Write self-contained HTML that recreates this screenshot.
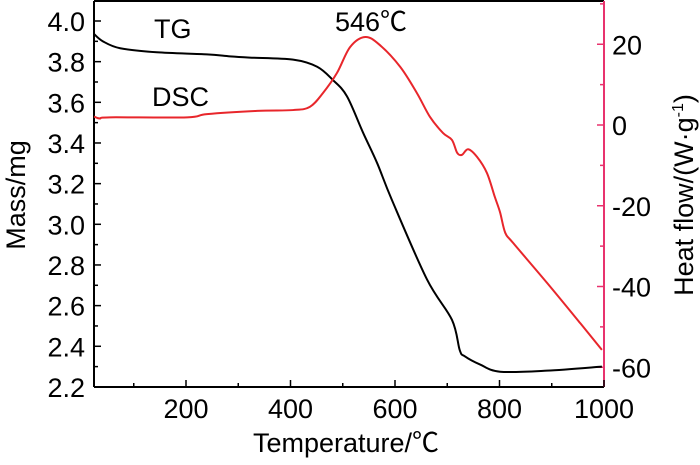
<!DOCTYPE html>
<html><head><meta charset="utf-8"><style>
body{margin:0;background:#fff}
svg text{font-family:"Liberation Sans","Noto Sans CJK SC",sans-serif;}
</style></head><body>
<svg id="c" width="700" height="460" xmlns="http://www.w3.org/2000/svg"></svg>
<script>
const xTicks=[200,400,600,800,1000];
const massTicks=[2.2,2.4,2.6,2.8,3.0,3.2,3.4,3.6,3.8,4.0];
const heatTicks=[-60,-40,-20,0,20];
const tgT=[24,41,74,144,240,284,322,405,451,481,508,539,566,594,661,709,724,734,763,801,891,996];
const tgM=[3.936,3.90,3.866,3.846,3.836,3.826,3.82,3.81,3.775,3.71,3.63,3.45,3.30,3.12,2.73,2.53,2.38,2.35,2.31,2.275,2.28,2.30];
const dscT=[24,35,54,202,240,336,405,437,462,489,514,543,571,610,642,667,692,709,719,728,740,757,776,791,801,811,826,891,954,996];
const dscH=[2.1,1.6,1.9,1.9,2.7,3.5,3.7,4.5,7.9,12.9,19.3,21.8,19.8,14.4,7.9,2,-2,-3.7,-6.9,-7.4,-6.0,-7.9,-11.9,-17.8,-21.6,-26.7,-29.2,-39.1,-49,-55.7];
const L=94,R=604,T=1,B=387;
const X=t=>186+(t-200)*0.5225;
const YM=m=>21+(4.0-m)*203.3;
const YH=h=>125-h*4.0375;
const svg=document.getElementById('c');
const NS='http://www.w3.org/2000/svg';
function mk(tag,attrs,txt){const e=document.createElementNS(NS,tag);for(const k in attrs)e.setAttribute(k,attrs[k]);if(txt!==undefined)e.textContent=txt;svg.appendChild(e);return e;}
function smooth(p){let d='M'+p[0][0]+','+p[0][1];
 for(let i=0;i<p.length-1;i++){const p0=p[i-1]||p[i],p1=p[i],p2=p[i+1],p3=p[i+2]||p2;
  const c1x=p1[0]+(p2[0]-p0[0])/6,c1y=p1[1]+(p2[1]-p0[1])/6,c2x=p2[0]-(p3[0]-p1[0])/6,c2y=p2[1]-(p3[1]-p1[1])/6;
  d+=' C'+c1x+','+c1y+' '+c2x+','+c2y+' '+p2[0]+','+p2[1];}
 return d;}
const pink='#e8336e';
let e=mk('line',{x1:L,y1:T,x2:L,y2:B,stroke:'#000','stroke-width':2});


e=mk('line',{x1:L,y1:T,x2:R,y2:T,stroke:'#000','stroke-width':2});


e=mk('line',{x1:L,y1:B,x2:R,y2:B,stroke:'#000','stroke-width':2});


e=mk('line',{x1:R,y1:T,x2:R,y2:B,stroke:pink,'stroke-width':2});


for(let t=100;t<=1000;t+=100){const x=X(t);if(x<L)continue;
 e=mk('line',{x1:x,y1:B,x2:x,y2:B-(t%200===0?7:4),stroke:'#000','stroke-width':1.5});
 
 }
xTicks.forEach(t=>{e=mk('text',{x:X(t),y:418,'text-anchor':'middle','font-size':27},t);
 
 });
for(let m=2.3;m<=4.05;m+=0.2){e=mk('line',{x1:L,y1:YM(m),x2:L+4,y2:YM(m),stroke:'#000','stroke-width':1.5});
 
 }
massTicks.forEach(m=>{const y=YM(m);
 e=mk('line',{x1:L,y1:y,x2:L+7,y2:y,stroke:'#000','stroke-width':1.5});
 
 
 e=mk('text',{x:85,y:y+10,'text-anchor':'end','font-size':27},m.toFixed(1));
 
 });
for(let h=-60;h<=30;h+=10){const y=YH(h);if(y>B||y<T)continue;
 e=mk('line',{x1:R,y1:y,x2:R-(h%20===0?7:4),y2:y,stroke:pink,'stroke-width':1.5});
 
 }
heatTicks.forEach(h=>{e=mk('text',{x:612,y:YH(h)+10,'font-size':27},h);
 
 });
e=mk('path',{d:smooth(tgT.map((t,i)=>[X(t),YM(tgM[i])])),fill:'none',stroke:'#000','stroke-width':2,'stroke-linejoin':'round'});


e=mk('path',{d:smooth(dscT.map((t,i)=>[X(t),YH(dscH[i])])),fill:'none',stroke:'#e8262b','stroke-width':2,'stroke-linejoin':'round'});


e=mk('text',{x:154,y:38,'font-size':27},'TG');


e=mk('text',{x:152,y:106,'font-size':27},'DSC');


e=mk('text',{x:335,y:31,'font-size':27},'546℃');


e=mk('text',{x:346,y:452,'text-anchor':'middle','font-size':27},'Temperature/℃');


e=mk('text',{x:0,y:0,'text-anchor':'middle','font-size':27,transform:'translate(25,195) rotate(-90)'},'Mass/mg');


e=mk('text',{x:0,y:0,'text-anchor':'middle','font-size':27,transform:'translate(693,195) rotate(-90)'});


e.innerHTML='Heat flow/(W·g<tspan dy="-10" font-size="16">-1</tspan><tspan dy="10">)</tspan>';
</script>
</body></html>
